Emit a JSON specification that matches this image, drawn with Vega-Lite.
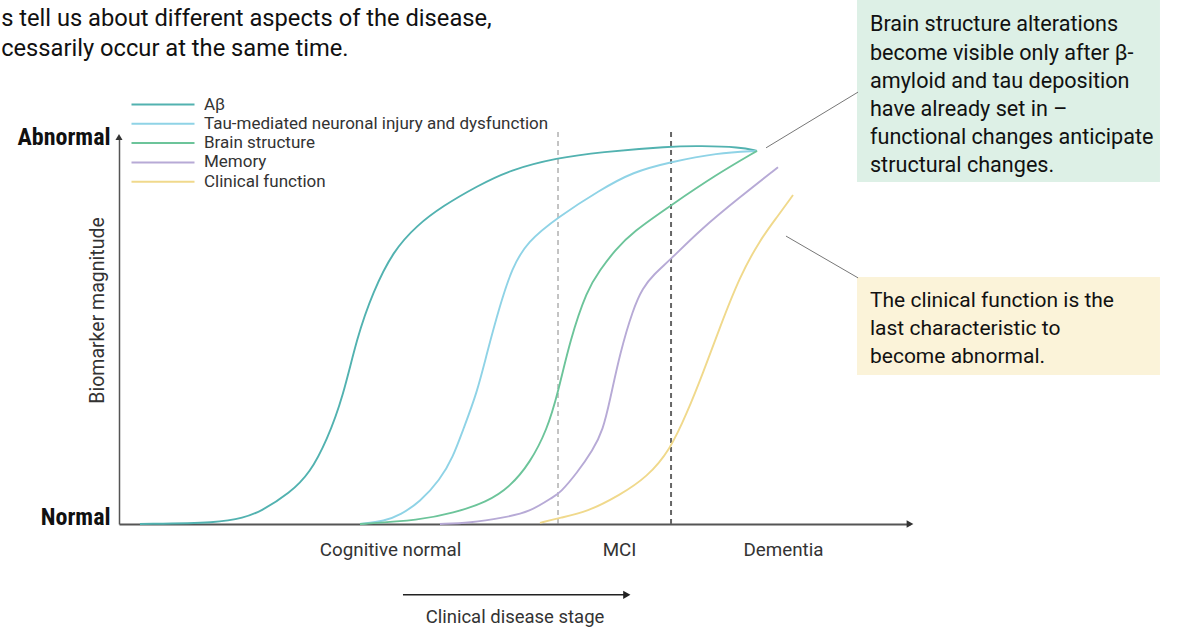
{
  "$schema": "https://vega.github.io/schema/vega-lite/v6.json",
  "autosize": {"type": "none"},
  "padding": {"left": 119, "top": 137, "right": 278, "bottom": 108},
  "width": 791,
  "height": 387,
  "background": "white",
  "config": {
    "view": {"stroke": null},
    "font": "Roboto, sans-serif"
  },
  "data": {"values": [{}]},
  "datasets": {
    "curves": [
      {"marker": "Aβ", "stage": 2.65, "level": 0},
      {"marker": "Aβ", "stage": 12.77, "level": 0.003},
      {"marker": "Aβ", "stage": 15.68, "level": 0.016},
      {"marker": "Aβ", "stage": 17.83, "level": 0.031},
      {"marker": "Aβ", "stage": 21.62, "level": 0.08},
      {"marker": "Aβ", "stage": 24.15, "level": 0.132},
      {"marker": "Aβ", "stage": 26.3, "level": 0.217},
      {"marker": "Aβ", "stage": 28.32, "level": 0.328},
      {"marker": "Aβ", "stage": 30.09, "level": 0.483},
      {"marker": "Aβ", "stage": 32.11, "level": 0.6},
      {"marker": "Aβ", "stage": 34.64, "level": 0.705},
      {"marker": "Aβ", "stage": 37.67, "level": 0.772},
      {"marker": "Aβ", "stage": 40.96, "level": 0.822},
      {"marker": "Aβ", "stage": 45.26, "level": 0.873},
      {"marker": "Aβ", "stage": 49.43, "level": 0.915},
      {"marker": "Aβ", "stage": 55.37, "level": 0.946},
      {"marker": "Aβ", "stage": 60.81, "level": 0.961},
      {"marker": "Aβ", "stage": 69.66, "level": 0.976},
      {"marker": "Aβ", "stage": 73.45, "level": 0.977},
      {"marker": "Aβ", "stage": 78.51, "level": 0.974},
      {"marker": "Aβ", "stage": 80.66, "level": 0.964},

      {"marker": "Tau-mediated neuronal injury and dysfunction", "stage": 30.47, "level": 0},
      {"marker": "Tau-mediated neuronal injury and dysfunction", "stage": 33.63, "level": 0.008},
      {"marker": "Tau-mediated neuronal injury and dysfunction", "stage": 35.52, "level": 0.023},
      {"marker": "Tau-mediated neuronal injury and dysfunction", "stage": 38.05, "level": 0.057},
      {"marker": "Tau-mediated neuronal injury and dysfunction", "stage": 40.58, "level": 0.114},
      {"marker": "Tau-mediated neuronal injury and dysfunction", "stage": 42.23, "level": 0.173},
      {"marker": "Tau-mediated neuronal injury and dysfunction", "stage": 43.49, "level": 0.243},
      {"marker": "Tau-mediated neuronal injury and dysfunction", "stage": 45.26, "level": 0.339},
      {"marker": "Tau-mediated neuronal injury and dysfunction", "stage": 46.52, "level": 0.442},
      {"marker": "Tau-mediated neuronal injury and dysfunction", "stage": 48.17, "level": 0.566},
      {"marker": "Tau-mediated neuronal injury and dysfunction", "stage": 49.68, "level": 0.661},
      {"marker": "Tau-mediated neuronal injury and dysfunction", "stage": 51.58, "level": 0.729},
      {"marker": "Tau-mediated neuronal injury and dysfunction", "stage": 55.5, "level": 0.793},
      {"marker": "Tau-mediated neuronal injury and dysfunction", "stage": 60.81, "level": 0.863},
      {"marker": "Tau-mediated neuronal injury and dysfunction", "stage": 64.98, "level": 0.91},
      {"marker": "Tau-mediated neuronal injury and dysfunction", "stage": 69.66, "level": 0.935},
      {"marker": "Tau-mediated neuronal injury and dysfunction", "stage": 75.6, "level": 0.959},
      {"marker": "Tau-mediated neuronal injury and dysfunction", "stage": 80.66, "level": 0.964},

      {"marker": "Brain structure", "stage": 30.47, "level": 0},
      {"marker": "Brain structure", "stage": 38.05, "level": 0.01},
      {"marker": "Brain structure", "stage": 42.23, "level": 0.028},
      {"marker": "Brain structure", "stage": 46.52, "level": 0.057},
      {"marker": "Brain structure", "stage": 49.43, "level": 0.096},
      {"marker": "Brain structure", "stage": 51.96, "level": 0.158},
      {"marker": "Brain structure", "stage": 54.11, "level": 0.243},
      {"marker": "Brain structure", "stage": 55.5, "level": 0.339},
      {"marker": "Brain structure", "stage": 57.02, "level": 0.475},
      {"marker": "Brain structure", "stage": 59.17, "level": 0.605},
      {"marker": "Brain structure", "stage": 60.81, "level": 0.656},
      {"marker": "Brain structure", "stage": 62.71, "level": 0.708},
      {"marker": "Brain structure", "stage": 64.98, "level": 0.755},
      {"marker": "Brain structure", "stage": 69.66, "level": 0.822},
      {"marker": "Brain structure", "stage": 75.6, "level": 0.904},
      {"marker": "Brain structure", "stage": 80.66, "level": 0.964},

      {"marker": "Memory", "stage": 40.58, "level": 0},
      {"marker": "Memory", "stage": 44.37, "level": 0.003},
      {"marker": "Memory", "stage": 48.55, "level": 0.016},
      {"marker": "Memory", "stage": 51.96, "level": 0.031},
      {"marker": "Memory", "stage": 54.87, "level": 0.07},
      {"marker": "Memory", "stage": 55.75, "level": 0.08},
      {"marker": "Memory", "stage": 57.9, "level": 0.132},
      {"marker": "Memory", "stage": 59.92, "level": 0.191},
      {"marker": "Memory", "stage": 61.19, "level": 0.243},
      {"marker": "Memory", "stage": 62.07, "level": 0.32},
      {"marker": "Memory", "stage": 63.34, "level": 0.442},
      {"marker": "Memory", "stage": 64.98, "level": 0.555},
      {"marker": "Memory", "stage": 66.2, "level": 0.61},
      {"marker": "Memory", "stage": 67.6, "level": 0.645},
      {"marker": "Memory", "stage": 69.66, "level": 0.682},
      {"marker": "Memory", "stage": 73.45, "level": 0.76},
      {"marker": "Memory", "stage": 78.51, "level": 0.845},
      {"marker": "Memory", "stage": 83.31, "level": 0.922},

      {"marker": "Clinical function", "stage": 53.22, "level": 0.003},
      {"marker": "Clinical function", "stage": 55.75, "level": 0.016},
      {"marker": "Clinical function", "stage": 59.17, "level": 0.031},
      {"marker": "Clinical function", "stage": 63.34, "level": 0.075},
      {"marker": "Clinical function", "stage": 66.75, "level": 0.121},
      {"marker": "Clinical function", "stage": 69.66, "level": 0.191},
      {"marker": "Clinical function", "stage": 71.81, "level": 0.287},
      {"marker": "Clinical function", "stage": 73.83, "level": 0.39},
      {"marker": "Clinical function", "stage": 75.98, "level": 0.509},
      {"marker": "Clinical function", "stage": 78.51, "level": 0.641},
      {"marker": "Clinical function", "stage": 81.04, "level": 0.734},
      {"marker": "Clinical function", "stage": 83.19, "level": 0.793},
      {"marker": "Clinical function", "stage": 85.21, "level": 0.85}
    ]
  },
  "layer": [
    {
      "mark": {"type": "rect", "color": "#ddf0e6", "clip": false},
      "encoding": {
        "x": {"datum": 93.3, "type": "quantitative", "scale": {"domain": [0, 100]}},
        "x2": {"datum": 131.6},
        "y": {"datum": 0.884, "type": "quantitative", "scale": {"domain": [0, 1]}},
        "y2": {"datum": 1.354}
      }
    },
    {
      "mark": {"type": "rect", "color": "#fbf3d9", "clip": false},
      "encoding": {
        "x": {"datum": 93.3, "type": "quantitative"},
        "x2": {"datum": 131.6},
        "y": {"datum": 0.385, "type": "quantitative"},
        "y2": {"datum": 0.638}
      }
    },
    {
      "mark": {"type": "rule", "color": "#888", "strokeWidth": 1, "strokeDash": [5, 4], "clip": false},
      "encoding": {"x": {"datum": 55.5, "type": "quantitative"}, "y": {"datum": 0, "type": "quantitative"}, "y2": {"datum": 1.015}}
    },
    {
      "mark": {"type": "rule", "color": "#666", "strokeWidth": 2, "strokeDash": [5, 4], "clip": false},
      "encoding": {"x": {"datum": 69.79, "type": "quantitative"}, "y": {"datum": 0, "type": "quantitative"}, "y2": {"datum": 1.015}}
    },
    {
      "data": {"name": "curves"},
      "mark": {"type": "line", "interpolate": "basis", "strokeWidth": 1.9, "clip": false},
      "encoding": {
        "x": {
          "field": "stage", "type": "quantitative",
          "axis": {
            "values": [34.26, 63.21, 83.94],
            "labelExpr": "datum.value < 50 ? 'Cognitive normal' : datum.value < 70 ? 'MCI' : 'Dementia'",
            "ticks": false, "grid": false,
            "domainColor": "#555", "domainWidth": 2,
            "labelFontSize": 18.8, "labelColor": "#333", "labelPadding": 16,
            "title": "Clinical disease stage", "titleFontSize": 18.5, "titleFontWeight": "normal",
            "titleColor": "#333", "titleBaseline": "middle", "titleY": 92
          }
        },
        "y": {
          "field": "level", "type": "quantitative",
          "axis": {
            "values": [0, 1],
            "labelExpr": "datum.value == 1 ? 'Abnormal' : 'Normal'",
            "ticks": false, "grid": false, "labelFlush": false,
            "domainColor": "#555", "domainWidth": 1.5,
            "labelFont": "Roboto Condensed, Liberation Sans Narrow, sans-serif",
            "labelFontSize": 24, "labelFontWeight": "bold", "labelColor": "#111",
            "labelPadding": 9,
            "labelBaseline": {"condition": {"test": "datum.value == 0", "value": "alphabetic"}, "value": "middle"},
            "title": "Biomarker magnitude", "titleFontSize": 19.5, "titleFontWeight": "normal",
            "titleColor": "#333", "titleX": -22, "titleY": 173, "titleAngle": -90,
            "titleAlign": "center", "titleBaseline": "middle"
          }
        },
        "color": {
          "field": "marker", "type": "nominal",
          "scale": {
            "domain": ["Aβ", "Tau-mediated neuronal injury and dysfunction", "Brain structure", "Memory", "Clinical function"],
            "range": ["#52b2b0", "#8fd3e6", "#6cc49a", "#b7aad6", "#f0d98c"]
          },
          "legend": {
            "orient": "none", "legendX": 35.5, "legendY": -41,
            "title": null, "padding": 0,
            "symbolType": "M-6.3,0H6.3", "symbolSize": 100, "symbolStrokeWidth": 2,
            "labelFontSize": 17, "labelColor": "#333", "labelLimit": 500, "labelOffset": 32.5,
            "rowPadding": 1.3
          }
        }
      }
    },
    {
      "mark": {"type": "point", "shape": "triangle-right", "filled": true, "color": "#333", "size": 60, "opacity": 1, "clip": false},
      "encoding": {"x": {"datum": 100, "type": "quantitative"}, "y": {"datum": 0, "type": "quantitative"}}
    },
    {
      "mark": {"type": "point", "shape": "triangle-up", "filled": true, "color": "#333", "size": 50, "opacity": 1, "clip": false},
      "encoding": {"x": {"datum": 0, "type": "quantitative"}, "y": {"datum": 1.0, "type": "quantitative"}}
    },
    {
      "mark": {"type": "rule", "color": "#222", "strokeWidth": 1.5, "clip": false},
      "encoding": {"x": {"datum": 35.9, "type": "quantitative"}, "x2": {"datum": 64.2}, "y": {"datum": -0.183, "type": "quantitative"}}
    },
    {
      "mark": {"type": "point", "shape": "triangle-right", "filled": true, "color": "#222", "size": 70, "opacity": 1, "clip": false},
      "encoding": {"x": {"datum": 64.2, "type": "quantitative"}, "y": {"datum": -0.183, "type": "quantitative"}}
    },
    {
      "mark": {"type": "rule", "color": "#777", "strokeWidth": 1, "clip": false},
      "encoding": {"x": {"datum": 81.8, "type": "quantitative"}, "x2": {"datum": 93.43}, "y": {"datum": 0.972, "type": "quantitative"}, "y2": {"datum": 1.116}}
    },
    {
      "mark": {"type": "rule", "color": "#777", "strokeWidth": 1, "clip": false},
      "encoding": {"x": {"datum": 84.32, "type": "quantitative"}, "x2": {"datum": 93.43}, "y": {"datum": 0.744, "type": "quantitative"}, "y2": {"datum": 0.636}}
    },
    {
      "mark": {"type": "text", "align": "left", "baseline": "alphabetic", "fontSize": 23.7, "lineHeight": 30, "color": "#111", "clip": false,
        "text": ["s tell us about different aspects of the disease,", "cessarily occur at the same time."]},
      "encoding": {"x": {"datum": -14.9, "type": "quantitative"}, "y": {"datum": 1.286, "type": "quantitative"}}
    },
    {
      "mark": {"type": "text", "align": "left", "baseline": "alphabetic", "fontSize": 21.6, "lineHeight": 28.2, "color": "#111", "clip": false,
        "text": ["Brain structure alterations", "become visible only after β-", "amyloid and tau deposition", "have already set in –", "functional changes anticipate", "structural changes."]},
      "encoding": {"x": {"datum": 94.94, "type": "quantitative"}, "y": {"datum": 1.273, "type": "quantitative"}}
    },
    {
      "mark": {"type": "text", "align": "left", "baseline": "alphabetic", "fontSize": 21, "lineHeight": 28, "color": "#111", "clip": false,
        "text": ["The clinical function is the", "last characteristic to", "become abnormal."]},
      "encoding": {"x": {"datum": 94.94, "type": "quantitative"}, "y": {"datum": 0.56, "type": "quantitative"}}
    }
  ]
}
